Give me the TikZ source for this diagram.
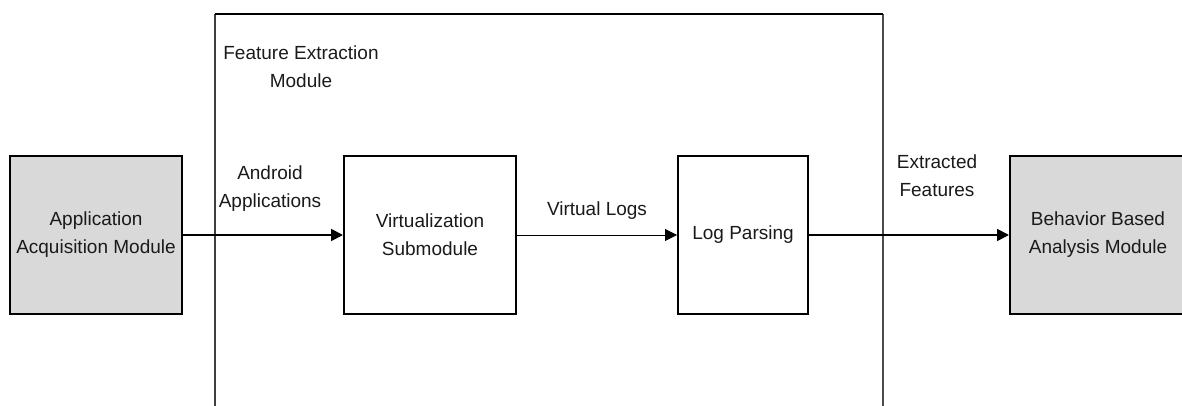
\documentclass[tikz,border=0pt]{standalone}
\usepackage{fontspec}
\setmainfont{Liberation Sans}
\usetikzlibrary{arrows.meta}
\definecolor{modfill}{HTML}{D9D9D9}
\definecolor{ink}{HTML}{1A1A1A}
\begin{document}
\begin{tikzpicture}[x=1pt,y=-1pt,
  every node/.style={font=\fontsize{19}{28}\selectfont, text=ink, align=center},
  block/.style={draw=black, line width=2pt, inner sep=0pt},
  module/.style={block, fill=modfill},
  flow/.style={draw=black, line width=1.8pt, -{Triangle[length=12pt,width=12pt]}},
  thinflow/.style={draw=black, line width=1pt, -{Triangle[length=12pt,width=12pt]}},
  lbl/.style={inner sep=0pt}]
\useasboundingbox (0,0) rectangle (1182,406);

% enclosing feature extraction frame, open at the bottom
\coordinate (fbl) at (215,410);
\coordinate (ftl) at (215,14);
\coordinate (ftr) at (883,14);
\coordinate (fbr) at (883,410);
\draw[line width=1.4pt, draw=black!75] (fbl) -- (ftl);
\draw[line width=1.4pt, draw=black!70] (ftr) -- (fbr);
\draw[line width=2.2pt, draw=black] (ftl) -- (ftr);
\node[lbl] (fem) at (301,67) {Feature Extraction\\Module};

% blocks
\node[module, minimum width=172pt, minimum height=157pt] (acq) at (96,235)
  {Application\\Acquisition Module};
\node[block, minimum width=172pt, minimum height=158pt] (virt) at (430,235)
  {Virtualization\\Submodule};
\node[block, minimum width=130pt, minimum height=158pt] (parse) at (743,235)
  {Log Parsing};
\node[module, minimum width=176pt, minimum height=158pt] (beh) at (1098,235)
  {Behavior Based\\Analysis Module};

% connectors
\draw[flow] (acq.east) -- (virt.west);
\draw[thinflow] (virt.east) -- (parse.west);
\draw[flow] (parse.east) -- (beh.west);

% connector labels
\node[lbl] (l1) at (270,189) {Android\\Applications};
\node[lbl] (l2) at (597,211) {Virtual Logs};
\node[lbl] (l3) at (937,176) {Extracted\\Features};
\end{tikzpicture}
\end{document}
